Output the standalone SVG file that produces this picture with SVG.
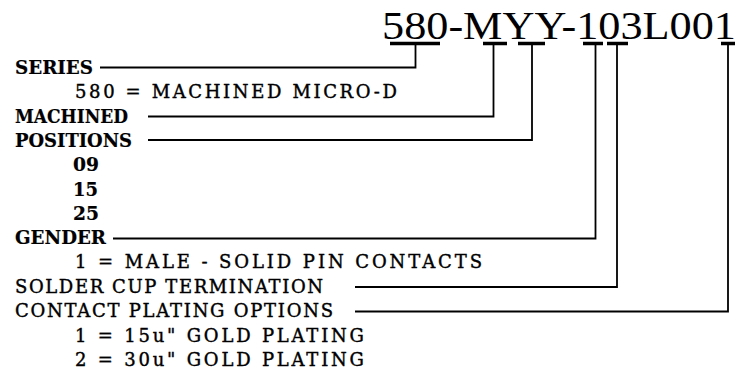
<svg xmlns="http://www.w3.org/2000/svg" width="738" height="375" viewBox="0 0 738 375">
<style>
text{font-family:"DejaVu Serif","Liberation Serif",serif;fill:#000;}
.t{font-size:18px;stroke:#000;stroke-width:0.4;}
.b{font-weight:bold;stroke-width:0.2;}
.pn{font-family:"Liberation Serif","DejaVu Serif",serif;font-size:41px;}
.c{stroke:#000;stroke-width:1.8;fill:none;}
.bar{stroke:#000;stroke-width:3.5;}
</style>
<rect width="738" height="375" fill="#fff"/>
<g id="partnumber">
<text class="pn" x="382" y="39" textLength="354" lengthAdjust="spacingAndGlyphs">580-MYY-103L001</text>
<line class="bar" x1="390" y1="43.5" x2="440" y2="43.5"/>
<line class="bar" x1="483" y1="43.5" x2="507" y2="43.5"/>
<line class="bar" x1="518" y1="43.5" x2="545" y2="43.5"/>
<line class="bar" x1="583" y1="43.5" x2="603" y2="43.5"/>
<line class="bar" x1="607" y1="43.5" x2="628" y2="43.5"/>
<line class="bar" x1="721" y1="43.5" x2="735" y2="43.5"/>
</g>
<g id="connectors">
<polyline class="c" points="100,67.5 415.5,67.5 415.5,44"/>
<polyline class="c" points="148,116.5 493.5,116.5 493.5,44"/>
<polyline class="c" points="148,140 532,140 532,44"/>
<polyline class="c" points="113,238.5 595.5,238.5 595.5,44"/>
<polyline class="c" points="355,287 617,287 617,44"/>
<polyline class="c" points="355,311.5 728,311.5 728,44"/>
</g>
<g id="series">
<text class="t b" x="15" y="74" textLength="78" lengthAdjust="spacingAndGlyphs">SERIES</text>
<text class="t" x="75" y="98.3" textLength="322">580 = MACHINED MICRO-D</text>
</g>
<g id="machined">
<text class="t b" x="15" y="122.6" textLength="113" lengthAdjust="spacingAndGlyphs">MACHINED</text>
</g>
<g id="positions">
<text class="t b" x="15" y="147" textLength="117" lengthAdjust="spacingAndGlyphs">POSITIONS</text>
<text class="t b" x="73" y="171.3" textLength="26" lengthAdjust="spacingAndGlyphs">09</text>
<text class="t b" x="73" y="195.6" textLength="25" lengthAdjust="spacingAndGlyphs">15</text>
<text class="t b" x="73" y="220" textLength="26" lengthAdjust="spacingAndGlyphs">25</text>
</g>
<g id="gender">
<text class="t b" x="15" y="244" textLength="91" lengthAdjust="spacingAndGlyphs">GENDER</text>
<text class="t" x="75" y="268.4" textLength="407">1 = MALE - SOLID PIN CONTACTS</text>
</g>
<g id="termination">
<text class="t" x="15" y="292.8" textLength="308">SOLDER CUP TERMINATION</text>
</g>
<g id="plating">
<text class="t" x="15" y="317.2" textLength="318">CONTACT PLATING OPTIONS</text>
<text class="t" x="75" y="341.6" textLength="289">1 = 15u" GOLD PLATING</text>
<text class="t" x="75" y="366" textLength="289">2 = 30u" GOLD PLATING</text>
</g>
</svg>
